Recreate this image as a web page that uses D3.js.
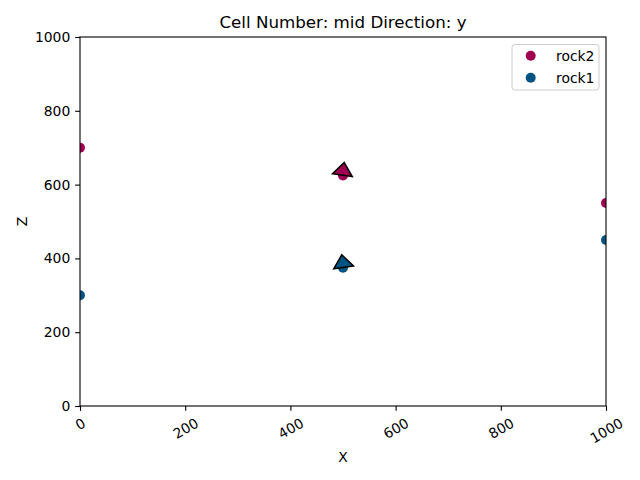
<!DOCTYPE html>
<html><head><meta charset="utf-8">
<script src="https://cdn.jsdelivr.net/npm/d3@7"></script>
<style>body{margin:0;background:#fff}svg{display:block}text{font-family:"DejaVu Sans",sans-serif;fill:#000}</style>
</head><body>
<script>
const seriesNames = ["rock2", "rock1"];
const seriesColors = ["#9f0052", "#015482"];
const rock2X = [0, 500, 1000];
const rock2Z = [700, 625, 550];
const rock1X = [0, 500, 1000];
const rock1Z = [300, 375, 450];
const orientX = [500, 500];
const orientZ = [637, 387];
const orientTilt = [8.5, -8.5];
const orientSeries = [0, 1];
const xTicks = [0, 200, 400, 600, 800, 1000];
const zTicks = [0, 200, 400, 600, 800, 1000];
const titleText = "Cell Number: mid Direction: y";

const W = 640, H = 480;
const m = {l: 80, r: 606, t: 37, b: 406};
const svg = d3.select("body").append("svg").attr("width", W).attr("height", H);
const x = d3.scaleLinear().domain([0, 1000]).range([m.l, m.r]);
const y = d3.scaleLinear().domain([0, 1000]).range([m.b, m.t]);

svg.append("defs").append("clipPath").attr("id", "clip")
  .append("rect").attr("x", m.l).attr("y", m.t).attr("width", m.r - m.l).attr("height", m.b - m.t);

const plot = svg.append("g").attr("clip-path", "url(#clip)");
const series = [{x: rock2X, z: rock2Z}, {x: rock1X, z: rock1Z}];
series.forEach((s, i) => {
  plot.selectAll(null).data(s.x.map((v, j) => [v, s.z[j]])).enter().append("circle")
    .attr("cx", d => x(d[0])).attr("cy", d => y(d[1])).attr("r", 5)
    .attr("fill", seriesColors[i]);
});
orientX.forEach((ox, i) => {
  plot.append("path")
    .attr("d", "M0,-8.5L10,4.2L-10,4.2Z")
    .attr("transform", `translate(${x(ox)},${y(orientZ[i])}) rotate(${orientTilt[i]})`)
    .attr("fill", seriesColors[orientSeries[i]])
    .attr("stroke", "#000").attr("stroke-width", 1.5).attr("stroke-linejoin", "miter");
});

// axes
const fs = 13.9;
const xAxis = svg.append("g").attr("transform", `translate(0,${m.b})`)
  .call(d3.axisBottom(x).tickValues(xTicks).tickSize(4.86).tickPadding(4.86).tickFormat(d3.format("d")));
const yAxis = svg.append("g").attr("transform", `translate(${m.l},0)`)
  .call(d3.axisLeft(y).tickValues(zTicks).tickSize(4.86).tickPadding(4.86).tickFormat(d3.format("d")));
[xAxis, yAxis].forEach(a => {
  a.select(".domain").remove();
  a.selectAll(".tick line").attr("stroke", "#000").attr("stroke-width", 1.1);
  a.selectAll("text").style("font-family", "DejaVu Sans").style("font-size", fs + "px").attr("fill", "#000");
});
// rotate x tick labels 30deg, centered, top of rotated box at fixed offset
xAxis.selectAll(".tick text").each(function() {
  const t = d3.select(this);
  const w = this.getComputedTextLength();
  const h = fs * 1.0;
  const Hb = w * 0.5 + h * 0.866;
  const cy = 4.86 + 4.86 + Hb / 2;
  t.attr("y", 0).attr("dy", "0.35em").attr("text-anchor", "middle")
   .attr("transform", `translate(0,${cy}) rotate(-30)`);
});

// spines
svg.append("rect").attr("x", m.l).attr("y", m.t).attr("width", m.r - m.l).attr("height", m.b - m.t)
  .attr("fill", "none").attr("stroke", "#000").attr("stroke-width", 1.1);

svg.append("text").attr("x", (m.l + m.r) / 2).attr("y", 28).attr("text-anchor", "middle")
  .style("font-size", "16.7px").text(titleText);
svg.append("text").attr("x", (m.l + m.r) / 2).attr("y", 462).attr("text-anchor", "middle")
  .style("font-size", fs + "px").text("X");
svg.append("text").attr("transform", `translate(27,${(m.t + m.b) / 2}) rotate(-90)`).attr("text-anchor", "middle")
  .style("font-size", fs + "px").text("Z");

// legend
const lg = svg.append("g");
lg.append("rect").attr("x", 512).attr("y", 44.5).attr("width", 87).attr("height", 45.5).attr("rx", 3)
  .attr("fill", "#fff").attr("fill-opacity", 0.8).attr("stroke", "#ccc").attr("stroke-width", 1);
seriesNames.forEach((n, i) => {
  const cy = 55.7 + i * 22;
  lg.append("circle").attr("cx", 530.7).attr("cy", cy).attr("r", 5).attr("fill", seriesColors[i]);
  lg.append("text").attr("x", 556).attr("y", cy).attr("dy", "0.35em").style("font-size", fs + "px").text(n);
});
</script>
</body></html>
